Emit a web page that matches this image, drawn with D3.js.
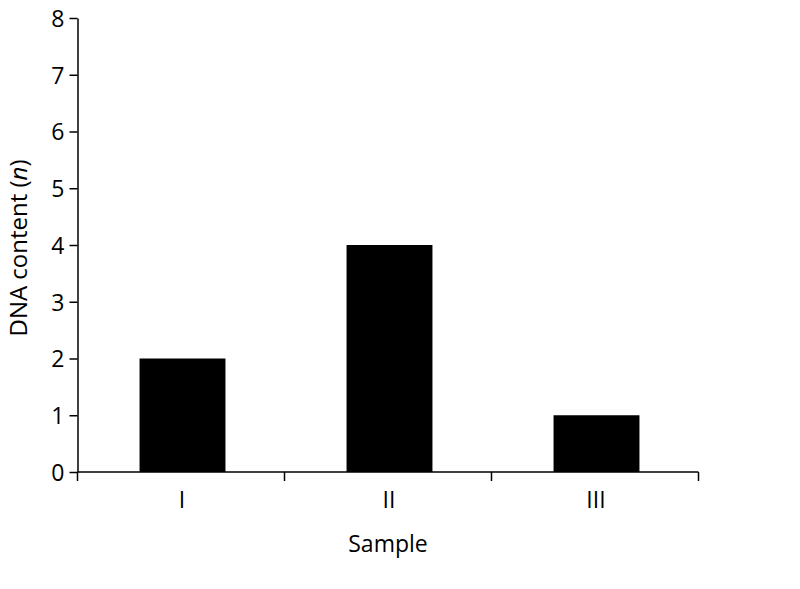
<!DOCTYPE html>
<html><head><meta charset="utf-8">
<script src="https://cdn.jsdelivr.net/npm/d3@7"></script>
<style>body{margin:0;background:#fff}svg{display:block}text{font-family:"Open Sans",sans-serif}</style>
</head><body>
<svg id="c" width="800" height="589"></svg>
<script>
const categories = ["I", "II", "III"];
const values = [2, 4, 1];
const yTicks = [0, 1, 2, 3, 4, 5, 6, 7, 8];

(function () {
const svg = d3.select("#c");
const mLeft = 77.5, mRight = 698.5, mTop = 18, mBottom = 472;
const x = d3.scaleBand().domain(categories).range([mLeft, mRight]).padding(0);
const y = d3.scaleLinear().domain([0, 8]).range([mBottom, mTop]);
const barW = x.bandwidth() * 0.415;

svg.append("g").selectAll("rect").data(values).join("rect")
  .attr("x", (d, i) => x(categories[i]) + x.bandwidth() / 2 - barW / 2 + 1.5)
  .attr("width", barW)
  .attr("y", d => y(d))
  .attr("height", d => y(0) - y(d))
  .attr("fill", "#000");

// Y axis
const ya = svg.append("g").attr("transform", `translate(${mLeft},0)`)
  .call(d3.axisLeft(y).tickValues(yTicks).tickSize(8).tickPadding(5).tickSizeOuter(0));
ya.select(".domain").attr("stroke", "#000").attr("stroke-width", 1.5);
ya.selectAll(".tick line").attr("stroke-width", 1.5);
ya.selectAll("text").attr("font-size", 23).attr("fill", "#000").attr("dy", "0.36em");

// X axis
const xa = svg.append("g").attr("transform", `translate(0,${mBottom})`);
xa.append("line").attr("x1", mLeft).attr("x2", mRight).attr("stroke", "#000").attr("stroke-width", 1.5);
const bounds = [mLeft, ...categories.map(c => x(c) + x.bandwidth())];
xa.selectAll("line.t").data(bounds).join("line").attr("class", "t")
  .attr("x1", d => d).attr("x2", d => d).attr("y1", 0).attr("y2", 9)
  .attr("stroke", "#000").attr("stroke-width", 1.5);
xa.selectAll("text").data(categories).join("text")
  .attr("x", d => x(d) + x.bandwidth() / 2 + 1)
  .attr("y", 36)
  .attr("text-anchor", "middle")
  .attr("font-size", 23)
  .attr("fill", "#000")
  .text(d => d);

svg.append("text").attr("x", 388).attr("y", 552).attr("text-anchor", "middle")
  .attr("font-size", 23).attr("fill", "#000").text("Sample");

const yl = svg.append("text").attr("transform", "translate(27,248) rotate(-90)")
  .attr("text-anchor", "middle").attr("font-size", 24).attr("fill", "#000");
yl.append("tspan").text("DNA content (");
yl.append("tspan").attr("font-style", "italic").text("n");
yl.append("tspan").text(")");
})();
</script>
</body></html>
